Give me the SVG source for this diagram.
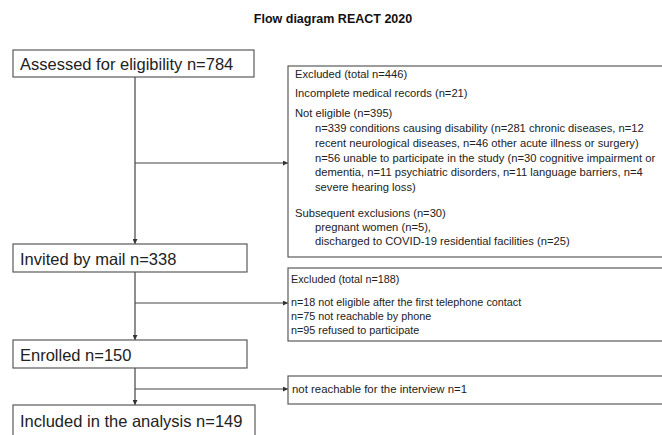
<svg xmlns="http://www.w3.org/2000/svg" width="662" height="435" viewBox="0 0 662 435">
<defs>
<marker id="ah" viewBox="0 0 6 6" refX="6" refY="3" markerWidth="5" markerHeight="5" orient="auto" markerUnits="userSpaceOnUse">
<path d="M0,0 L6,3 L0,6 z" fill="#333"/>
</marker>
<style>
.box{fill:#fff;stroke:#5a5a5a;stroke-width:1.2}
.big{font-family:"Liberation Sans",Arial,sans-serif;font-size:16.5px;fill:#222}
.sm{font-family:"Liberation Sans",Arial,sans-serif;font-size:11.2px;fill:#222}
.sm2{font-family:"Liberation Sans",Arial,sans-serif;font-size:10.8px;fill:#222}
.sm3{font-family:"Liberation Sans",Arial,sans-serif;font-size:11.4px;fill:#222}
.ln{stroke:#444;stroke-width:1.2;fill:none}
.title{font-family:"Liberation Sans",Arial,sans-serif;font-size:12.5px;font-weight:bold;fill:#111}
</style>
</defs>
<rect width="662" height="435" fill="#fff"/>
<text class="title" x="333" y="23" text-anchor="middle">Flow diagram REACT 2020</text>

<g id="connectors">
<line class="ln" x1="135" y1="77" x2="135" y2="244" marker-end="url(#ah)"/>
<line class="ln" x1="135" y1="163" x2="288" y2="163" marker-end="url(#ah)"/>
<line class="ln" x1="135" y1="272" x2="135" y2="340" marker-end="url(#ah)"/>
<line class="ln" x1="135" y1="303" x2="288" y2="303" marker-end="url(#ah)"/>
<line class="ln" x1="135" y1="368" x2="135" y2="405" marker-end="url(#ah)"/>
<line class="ln" x1="135" y1="389" x2="288" y2="389" marker-end="url(#ah)"/>
</g>

<g id="assessed">
<rect class="box" x="13" y="50" width="241" height="27"/>
<text class="big" x="20" y="70">Assessed for eligibility n=784</text>
</g>

<g id="excluded1">
<rect class="box" x="288" y="66" width="390" height="191"/>
<text class="sm" x="295" y="78">Excluded (total n=446)</text>
<text class="sm" x="295" y="97">Incomplete medical records (n=21)</text>
<text class="sm" x="295" y="117">Not eligible (n=395)</text>
<text class="sm" x="315" y="132">n=339 conditions causing disability (n=281 chronic diseases, n=12</text>
<text class="sm" x="315" y="147">recent neurological diseases, n=46 other acute illness or surgery)</text>
<text class="sm" x="315" y="162">n=56 unable to participate in the study (n=30 cognitive impairment or</text>
<text class="sm" x="315" y="176">dementia, n=11 psychiatric disorders, n=11 language barriers, n=4</text>
<text class="sm" x="315" y="191">severe hearing loss)</text>
<text class="sm" x="295" y="217">Subsequent exclusions (n=30)</text>
<text class="sm" x="315" y="231">pregnant women (n=5),</text>
<text class="sm" x="315" y="245">discharged to COVID-19 residential facilities (n=25)</text>
</g>

<g id="invited">
<rect class="box" x="13" y="244" width="234" height="28"/>
<text class="big" x="20" y="265">Invited by mail n=338</text>
</g>

<g id="excluded2">
<rect class="box" x="288" y="268" width="390" height="73"/>
<text class="sm2" x="291" y="283">Excluded (total n=188)</text>
<text class="sm2" x="291" y="306">n=18 not eligible after the first telephone contact</text>
<text class="sm2" x="291" y="320">n=75 not reachable by phone</text>
<text class="sm2" x="291" y="334">n=95 refused to participate</text>
</g>

<g id="enrolled">
<rect class="box" x="13" y="340" width="234" height="28"/>
<text class="big" x="20" y="361">Enrolled n=150</text>
</g>

<g id="excluded3">
<rect class="box" x="288" y="376" width="390" height="28"/>
<text class="sm3" x="292" y="393">not reachable for the interview n=1</text>
</g>

<g id="included">
<rect class="box" x="13" y="405" width="242" height="40"/>
<text class="big" x="20" y="427">Included in the analysis n=149</text>
</g>
</svg>
